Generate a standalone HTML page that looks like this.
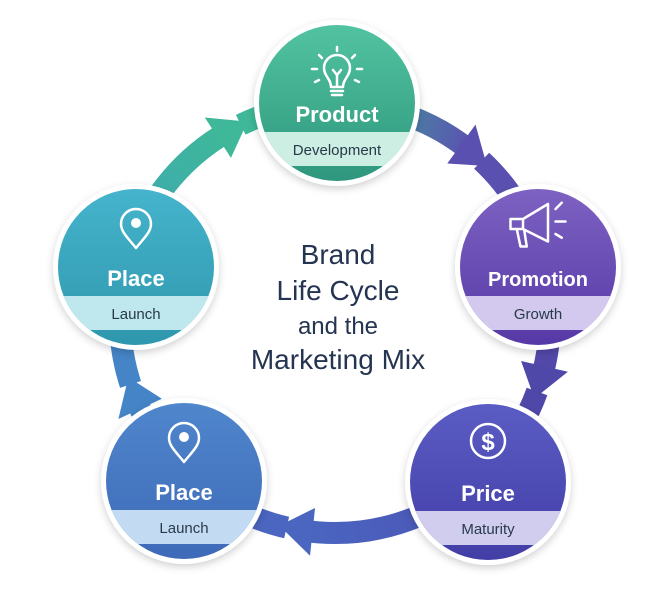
<!DOCTYPE html>
<html><head><meta charset="utf-8"><style>
html,body{margin:0;padding:0;background:#fff;}
svg{display:block;font-family:"Liberation Sans",sans-serif;}
</style></head><body>
<svg id="s" width="667" height="610" viewBox="0 0 667 610" xmlns="http://www.w3.org/2000/svg">
<defs>
<filter id="sh" x="-20%" y="-20%" width="140%" height="140%"><feDropShadow dx="0" dy="3" stdDeviation="4" flood-color="#000" flood-opacity="0.18"/></filter>
<linearGradient id="gG" x1="0" y1="0" x2="0" y2="1"><stop offset="0" stop-color="#52c3a0"/><stop offset="1" stop-color="#2e977d"/></linearGradient>
<linearGradient id="gP" x1="0" y1="0" x2="0" y2="1"><stop offset="0" stop-color="#7d62c2"/><stop offset="1" stop-color="#5639a6"/></linearGradient>
<linearGradient id="gR" x1="0" y1="0" x2="0" y2="1"><stop offset="0" stop-color="#5a5cc4"/><stop offset="1" stop-color="#423ea6"/></linearGradient>
<linearGradient id="gB" x1="0" y1="0" x2="0" y2="1"><stop offset="0" stop-color="#4f86cc"/><stop offset="1" stop-color="#3e6ab8"/></linearGradient>
<linearGradient id="gT" x1="0" y1="0" x2="0" y2="1"><stop offset="0" stop-color="#45b4cc"/><stop offset="1" stop-color="#2f97ad"/></linearGradient>
</defs>
<g id="ring"></g>
<g id="nodes"></g>
<g fill="#243451" text-anchor="middle">
<text x="338" y="264" font-size="28">Brand</text>
<text x="338" y="300" font-size="28">Life Cycle</text>
<text x="338" y="334" font-size="24">and the</text>
<text x="338" y="369" font-size="28">Marketing Mix</text>
</g>
</svg>
<script>
var C=[335,318],R=215,ns="http://www.w3.org/2000/svg";
function P(a,r){a=a*Math.PI/180;return [C[0]+r*Math.cos(a),C[1]+r*Math.sin(a)];}
var ring=document.getElementById('ring');
function el(t,at,p){var e=document.createElementNS(ns,t);for(var k in at)e.setAttribute(k,at[k]);(p||ring).appendChild(e);return e;}
var segs=[[-89,-45,'#3fae9a','#5a50b0'],[-14,22,'#6247ad','#5048a8'],[47,105,'#4c52b4','#4a66c0'],[132,164,'#3f74c0','#4584c6'],[196,246,'#3fa6b8','#3eb898']];
segs.forEach(function(s,i){
 var a0=s[0],a1=s[1]-6;
 var p0=P(a0,R),p1=P(a1,R);
 var gid='sg'+i;var lg=el('linearGradient',{id:gid,gradientUnits:'userSpaceOnUse',x1:p0[0],y1:p0[1],x2:p1[0],y2:p1[1]},document.querySelector('defs'));
 el('stop',{offset:0,'stop-color':s[2]},lg);el('stop',{offset:1,'stop-color':s[3]},lg);
 el('path',{d:'M'+p0+' A'+R+' '+R+' 0 0 1 '+p1,fill:'none',stroke:'url(#'+gid+')','stroke-width':22});
 var n=segs[(i+1)%5][0]+(i==4?360:0);
 var q0=P(s[1]-2,R),q1=P(n,R);
 el('path',{d:'M'+q0+' A'+R+' '+R+' 0 0 1 '+q1,fill:'none',stroke:s[3],'stroke-width':22});
 var t=P(s[1],R),b1=P(s[1]-9,R+24),b2=P(s[1]-9,R-24);
 el('polygon',{points:t+' '+b1+' '+b2,fill:s[3]});
});
var nodes=[
 [337,103,'gG','#cdeee2','Product','Development','bulb'],
 [538,267,'gP','#d3c9ee','Promotion','Growth','mega'],
 [488,482,'gR','#d0cdef','Price','Maturity','dollar'],
 [184,481,'gB','#c3dbf2','Place','Launch','pin'],
 [136,267,'gT','#bfe7ee','Place','Launch','pin']];
var G=document.getElementById('nodes');
nodes.forEach(function(n,i){
 var x=n[0],y=n[1],r=78;
 var g=el('g',{},G);
 el('circle',{cx:x,cy:y,r:r+5,fill:'#fff',filter:'url(#sh)'},g);
 var cp='cp'+i;var c=el('clipPath',{id:cp},document.querySelector('defs'));el('circle',{cx:x,cy:y,r:r},c);
 var gg=el('g',{'clip-path':'url(#'+cp+')'},g);
 el('rect',{x:x-r,y:y-r,width:2*r,height:2*r,fill:'url(#'+n[2]+')'},gg);
 el('rect',{x:x-r,y:y+29,width:2*r,height:34,fill:n[3]},gg);
 var t=el('text',{x:x,y:y+19,'font-size':n[4].length>7?20:22,'font-weight':'bold',fill:'#fff','text-anchor':'middle'},g);t.textContent=n[4];
 var t2=el('text',{x:x,y:y+52,'font-size':15,fill:'#283a4a','text-anchor':'middle'},g);t2.textContent=n[5];
 var st={fill:'none',stroke:'#fff','stroke-width':2.5,'stroke-linecap':'round','stroke-linejoin':'round'};
 var iy=y-35;
 if(n[6]=='pin'){
  st.d='M'+x+' '+(iy+16)+' C'+(x-8)+' '+(iy+6)+' '+(x-15)+' '+(iy)+' '+(x-15)+' '+(iy-8)+' A15 15 0 0 1 '+(x+15)+' '+(iy-8)+' C'+(x+15)+' '+iy+' '+(x+8)+' '+(iy+6)+' '+x+' '+(iy+16)+'Z';
  el('path',st,g);el('circle',{cx:x,cy:iy-9,r:5,fill:'#fff'},g);
 } else if(n[6]=='bulb'){
  iy=y-18;
  st.d='M'+(x-6)+' '+(iy+2)+' C'+(x-6)+' '+(iy-6)+' '+(x-13)+' '+(iy-9)+' '+(x-13)+' '+(iy-17)+' A13 13 0 0 1 '+(x+13)+' '+(iy-17)+' C'+(x+13)+' '+(iy-9)+' '+(x+6)+' '+(iy-6)+' '+(x+6)+' '+(iy+2)+'Z M'+(x-6)+' '+(iy+6)+' H'+(x+6)+' M'+(x-5)+' '+(iy+10)+' H'+(x+5)+' M'+x+' '+(iy+2)+' V'+(iy-10)+' L'+(x-4)+' '+(iy-15)+' M'+x+' '+(iy-10)+' L'+(x+4)+' '+(iy-15)+
   ' M'+x+' '+(iy-38)+' V'+(iy-34)+' M'+(x-18)+' '+(iy-30)+' L'+(x-15)+' '+(iy-27)+' M'+(x+18)+' '+(iy-30)+' L'+(x+15)+' '+(iy-27)+' M'+(x-25)+' '+(iy-16)+' H'+(x-20)+' M'+(x+25)+' '+(iy-16)+' H'+(x+20)+' M'+(x-22)+' '+(iy-3)+' L'+(x-18)+' '+(iy-5)+' M'+(x+22)+' '+(iy-3)+' L'+(x+18)+' '+(iy-5);
  el('path',st,g);
 } else if(n[6]=='mega'){
  var mg=el('g',{transform:'translate('+x+' '+(iy-8)+') scale(1.25) translate('+(-x)+' '+(-(iy-8))+')'},g);
  st['stroke-width']=2;
  st.d='M'+(x-22)+' '+(iy-12)+' H'+(x-12)+' L'+(x+8)+' '+(iy-24)+' V'+(iy+6)+' L'+(x-12)+' '+(iy-4)+' H'+(x-22)+' Z M'+(x-12)+' '+(iy-12)+' V'+(iy-4)+' M'+(x-17)+' '+(iy-4)+' L'+(x-14)+' '+(iy+10)+' H'+(x-9)+' L'+(x-11)+' '+(iy-3)+' M'+(x+14)+' '+(iy-20)+' L'+(x+19)+' '+(iy-25)+' M'+(x+14)+' '+(iy-10)+' H'+(x+22)+' M'+(x+14)+' '+(iy)+' L'+(x+19)+' '+(iy+3);
  el('path',st,mg);
 } else {
  el('circle',{cx:x,cy:iy-6,r:17,fill:'none',stroke:'#fff','stroke-width':2.5},g);
  var d=el('text',{x:x,y:iy+3,'font-size':24,'font-weight':'bold',fill:'#fff','text-anchor':'middle'},g);d.textContent='$';
 }
});
</script>
</body></html>
